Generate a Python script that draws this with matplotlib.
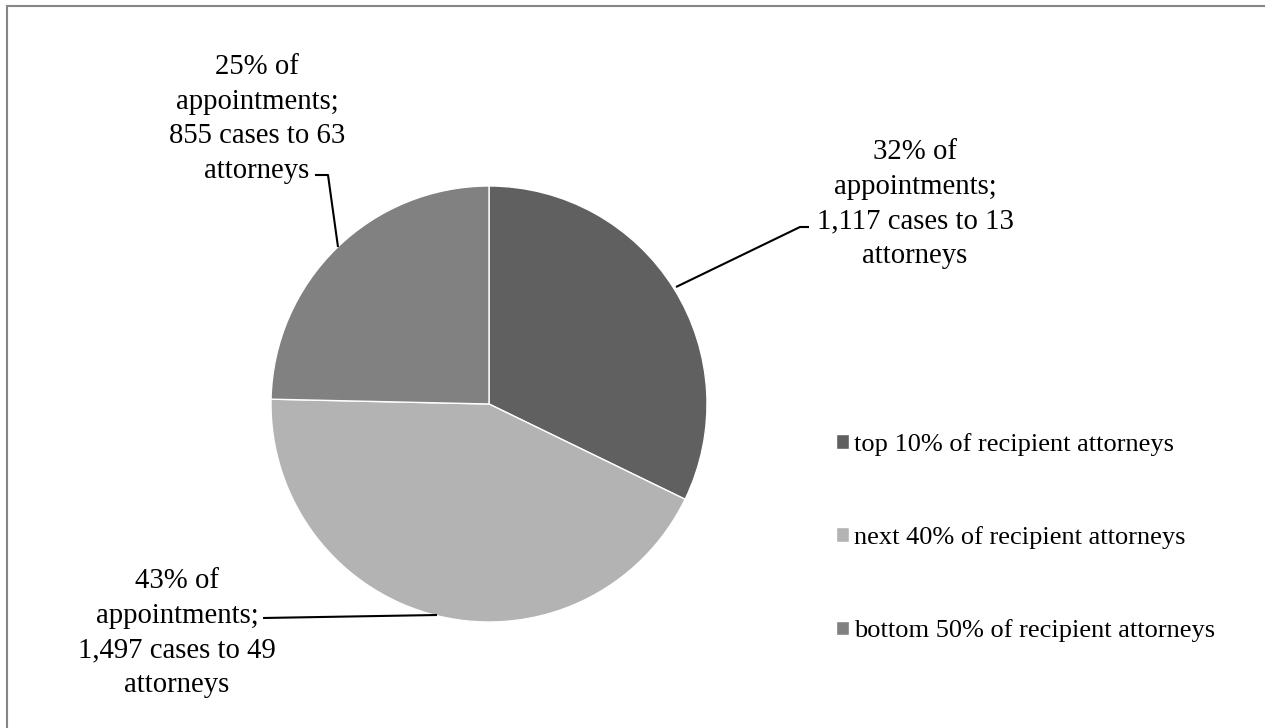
import matplotlib.pyplot as plt
from matplotlib.patches import Rectangle

plt.rcParams["font.family"] = ["Liberation Serif", "DejaVu Serif"]

# appointments per group of recipient attorneys
groups = [
    "top 10% of recipient attorneys",
    "next 40% of recipient attorneys",
    "bottom 50% of recipient attorneys",
]
cases = [1117, 1497, 855]
attorneys = [13, 49, 63]
colors = ["#606060", "#b3b3b3", "#818181"]

W, H = 1265, 728
fig = plt.figure(figsize=(W / 100, H / 100), dpi=100)
ax = fig.add_axes([0, 0, 1, 1])

cx, cy, r = 489, H - 404, 218
wedges, _ = ax.pie(cases, colors=colors, startangle=90, counterclock=False,
                   center=(cx, cy), radius=r, frame=True,
                   wedgeprops=dict(edgecolor="white", linewidth=1))
ax.set_xlim(0, W)
ax.set_ylim(0, H)
ax.set_aspect("equal")
ax.axis("off")

total = sum(cases)
labels = [f"{round(100 * c / total)}% of\nappointments;\n{c:,} cases to {a}\nattorneys"
          for c, a in zip(cases, attorneys)]

# label centres and leader lines (pixel coords from top-left)
label_pos = [(915, 204), (177, 633), (257, 119)]
leaders = [
    [(676, 287), (800, 227), (809, 227)],
    [(263, 618), (437, 615)],
    [(315, 175), (328, 175), (338, 247)],
]
for text, (tx, ty), pts in zip(labels, label_pos, leaders):
    ax.text(tx, H - ty, text, ha="center", va="center", fontsize=20.7,
            linespacing=1.43, color="black")
    ax.plot([p[0] for p in pts], [H - p[1] for p in pts], color="black", lw=1.5,
            solid_capstyle="butt")

leg = ax.legend(wedges, groups, loc="upper left", bbox_to_anchor=(836 / W, 1 - 433 / H),
                frameon=False, fontsize=19, handlelength=0.49, handleheight=0.49,
                handletextpad=0.19, labelspacing=2.66, borderaxespad=0, borderpad=0)

# outer frame (only left and top edges fall inside the image)
fig.patches.append(Rectangle((7 / W, -0.1), 1.2, 1 - 6 / H + 0.1, transform=fig.transFigure,
                             fill=False, edgecolor="#868686", linewidth=1.5))

fig.savefig("out.png", dpi=100)
